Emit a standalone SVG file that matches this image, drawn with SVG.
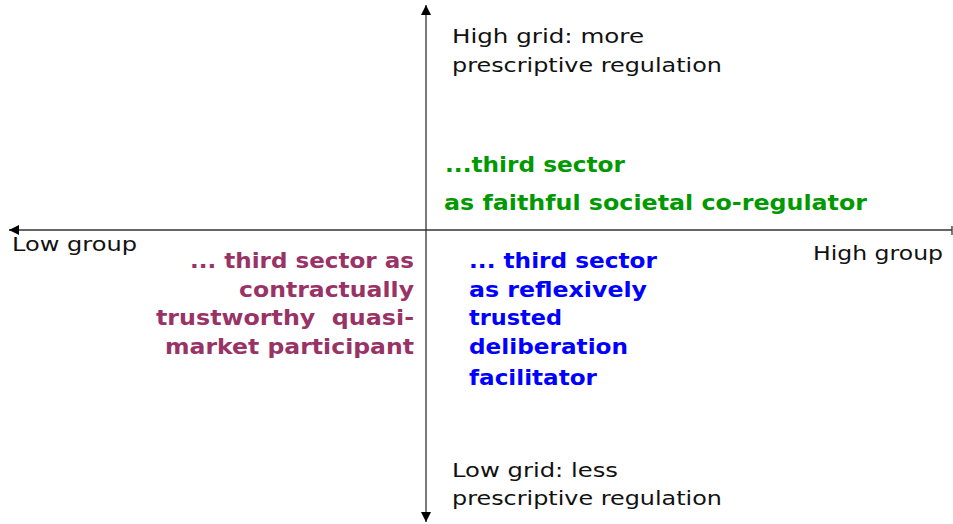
<svg xmlns="http://www.w3.org/2000/svg" width="953" height="524" viewBox="0 0 953 524">
  <style>
    .lbl { font-family: "DejaVu Sans", Verdana, sans-serif; font-size: 19px; fill: #111; }
    .b { font-family: "DejaVu Sans", Verdana, sans-serif; font-size: 21px; font-weight: bold; }
    .green { fill: #009900; }
    .purple { fill: #993366; }
    .blue { fill: #0000ff; }
    .axis { stroke: #333; stroke-width: 1.3; fill: none; }
  </style>
  <defs>
    <marker id="arrow" viewBox="0 0 10 10" refX="10" refY="5" markerWidth="10" markerHeight="10" markerUnits="userSpaceOnUse" orient="auto">
      <path d="M0,0 L10,5 L0,10 z" fill="#000"/>
    </marker>
  </defs>
  <rect width="953" height="524" fill="#fff"/>

  <g id="connectors">
    <line class="axis" x1="952" y1="230" x2="9" y2="230" marker-end="url(#arrow)"/>
    <line class="axis" x1="952" y1="226" x2="952" y2="235"/>
    <line class="axis" x1="426" y1="260" x2="426" y2="5" marker-end="url(#arrow)"/>
    <line class="axis" x1="426" y1="260" x2="426" y2="522" marker-end="url(#arrow)"/>
  </g>

  <g id="high-grid">
    <text class="lbl" x="452" y="43" textLength="192" lengthAdjust="spacingAndGlyphs">High grid: more</text>
    <text class="lbl" x="452" y="72" textLength="270" lengthAdjust="spacingAndGlyphs">prescriptive regulation</text>
  </g>

  <g id="low-grid">
    <text class="lbl" x="452" y="477" textLength="166" lengthAdjust="spacingAndGlyphs">Low grid: less</text>
    <text class="lbl" x="452" y="505" textLength="270" lengthAdjust="spacingAndGlyphs">prescriptive regulation</text>
  </g>

  <g id="low-group">
    <text class="lbl" x="12" y="251" textLength="125" lengthAdjust="spacingAndGlyphs">Low group</text>
  </g>

  <g id="high-group">
    <text class="lbl" x="813" y="260" textLength="130" lengthAdjust="spacingAndGlyphs">High group</text>
  </g>

  <g id="co-regulator">
    <text class="b green" x="445" y="172" textLength="180" lengthAdjust="spacingAndGlyphs">...third sector</text>
    <text class="b green" x="444" y="210" textLength="423" lengthAdjust="spacingAndGlyphs">as faithful societal co-regulator</text>
  </g>

  <g id="quasi-market">
    <text class="b purple" x="190" y="268" textLength="224" lengthAdjust="spacingAndGlyphs">... third sector as</text>
    <text class="b purple" x="239" y="297" textLength="175" lengthAdjust="spacingAndGlyphs">contractually</text>
    <text class="b purple" x="156" y="325" textLength="258" lengthAdjust="spacingAndGlyphs" xml:space="preserve">trustworthy  quasi-</text>
    <text class="b purple" x="165" y="354" textLength="249" lengthAdjust="spacingAndGlyphs">market participant</text>
  </g>

  <g id="deliberation">
    <text class="b blue" x="469" y="268" textLength="188" lengthAdjust="spacingAndGlyphs">... third sector</text>
    <text class="b blue" x="469" y="297" textLength="178" lengthAdjust="spacingAndGlyphs">as reflexively</text>
    <text class="b blue" x="469" y="325" textLength="93" lengthAdjust="spacingAndGlyphs">trusted</text>
    <text class="b blue" x="469" y="354" textLength="159" lengthAdjust="spacingAndGlyphs">deliberation</text>
    <text class="b blue" x="469" y="385" textLength="128" lengthAdjust="spacingAndGlyphs">facilitator</text>
  </g>
</svg>
